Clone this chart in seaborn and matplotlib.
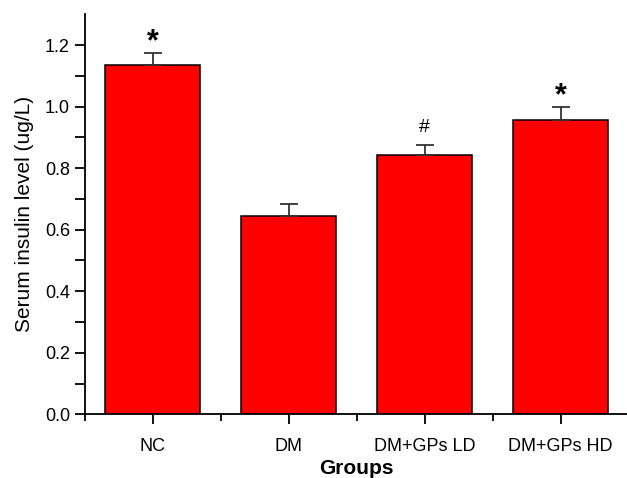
import numpy as np
import pandas as pd
import matplotlib
matplotlib.use('Agg')
import matplotlib.pyplot as plt
import seaborn as sns
from matplotlib.ticker import FixedLocator

# Serum insulin by group
groups = ['NC', 'DM', 'DM+GPs LD', 'DM+GPs HD']
insulin = [1.135, 0.646, 0.843, 0.957]
insulin_err = [0.039, 0.036, 0.033, 0.041]
marks = ['*', '', '#', '*']

sns.set_style('ticks')
plt.rcParams['font.family'] = ['Liberation Sans', 'DejaVu Sans']
plt.rcParams['text.color'] = 'black'
plt.rcParams['axes.labelcolor'] = 'black'
plt.rcParams['xtick.color'] = 'black'
plt.rcParams['ytick.color'] = 'black'

df = pd.DataFrame({'group': groups, 'insulin': insulin})

fig = plt.figure(figsize=(6.27, 4.78), dpi=100)
ax = fig.add_axes([84.5 / 627, 1 - 414.3 / 478, 544 / 627, 400 / 478])

sns.barplot(df, x='group', y='insulin', color='#ff0000', saturation=1,
            edgecolor='black', linewidth=1.1, width=0.7, errorbar=None, ax=ax)

# upper-only error bars
xs = np.arange(len(groups))
ax.errorbar(xs, insulin, yerr=[np.zeros(len(groups)), insulin_err], fmt='none',
            ecolor='#333333', elinewidth=1.3, capsize=6.5, capthick=1.3, zorder=3)

# significance marks above the error bars
for i, m in enumerate(marks):
    if not m:
        continue
    top = insulin[i] + insulin_err[i]
    if m == '*':
        ax.annotate(m, (i, top), xytext=(0, -3), textcoords='offset points',
                    ha='center', va='bottom', fontsize=22, fontweight='bold')
    else:
        ax.annotate(m, (i, top), xytext=(0, 6), textcoords='offset points',
                    ha='center', va='bottom', fontsize=14)

ax.set_xlim(-0.5, 3.5)
ax.set_ylim(0, 1.3)
ax.yaxis.set_major_locator(FixedLocator([0, 0.2, 0.4, 0.6, 0.8, 1.0, 1.2]))
ax.yaxis.set_minor_locator(FixedLocator([0.1, 0.3, 0.5, 0.7, 0.9, 1.1]))
ax.set_yticklabels(['0.0', '0.2', '0.4', '0.6', '0.8', '1.0', '1.2'])
ax.xaxis.set_minor_locator(FixedLocator([-0.5, 0.5, 1.5, 2.5, 3.5]))

ax.tick_params(axis='both', which='major', direction='out', length=7, width=1.3,
               labelsize=13, color='black', labelcolor='black')
ax.tick_params(axis='y', which='minor', direction='out', length=7, width=1.3)
ax.tick_params(axis='x', which='minor', direction='out', length=5, width=1.3)
ax.tick_params(axis='x', which='major', pad=10)

for s in ['top', 'right']:
    ax.spines[s].set_visible(False)
for s in ['left', 'bottom']:
    ax.spines[s].set_linewidth(1.3)
    ax.spines[s].set_color('black')

ax.set_xlabel('Groups', fontsize=15, fontweight='bold', labelpad=3)
ax.set_ylabel('Serum insulin level (ug/L)', fontsize=15, labelpad=8)

fig.savefig('out.png', dpi=100)
